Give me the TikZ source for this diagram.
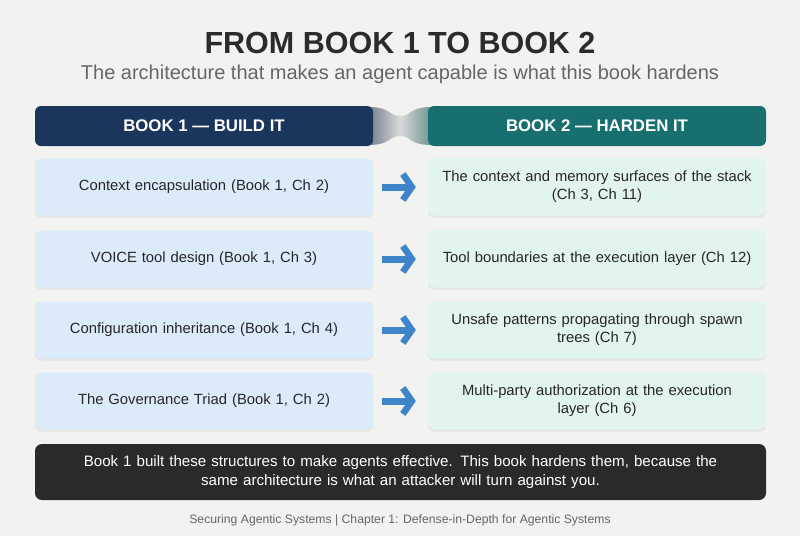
\documentclass[tikz,border=0pt]{standalone}
\usepackage{fontspec}
\setmainfont{Liberation Sans}
\usetikzlibrary{arrows.meta,shadows}
\definecolor{bg}{HTML}{F2F2F0}
\definecolor{navy}{HTML}{1B365D}
\definecolor{teal}{HTML}{17706F}
\definecolor{lblue}{HTML}{DCEBF9}
\definecolor{lmint}{HTML}{E2F4F0}
\definecolor{arrblue}{HTML}{3D85C8}
\definecolor{darkbox}{HTML}{2A2A2A}
\definecolor{titlec}{HTML}{2B2B2B}
\definecolor{subc}{HTML}{666666}
\tikzset{
  hdr/.style={rectangle, rounded corners=6pt, minimum width=338pt, minimum height=40pt, text=white, font=\fontsize{16.8}{20}\selectfont\bfseries, inner sep=0pt},
  lbox/.style={rectangle, rounded corners=6pt, fill=lblue, minimum width=338pt, minimum height=57pt, align=center, text width=330pt, font=\fontsize{14.8}{18}\selectfont, text=black!85, drop shadow={opacity=0.12, shadow xshift=0pt, shadow yshift=-2pt}},
  rbox/.style={lbox, fill=lmint},
  arr/.style={draw=arrblue, line width=7pt, shorten <=9pt, shorten >=12pt, -{Straight Barb[length=9pt, width=26pt, line width=6.5pt]}},
}
\begin{document}
\begin{tikzpicture}[x=1pt,y=-1pt]
\useasboundingbox[fill=bg] (0,0) rectangle (800,536);
\node[font=\fontsize{30.5}{34}\selectfont\bfseries, text=titlec] (title) at (400,43) {FROM BOOK 1 TO BOOK 2};
\node[font=\fontsize{20}{24}\selectfont, text=subc] (sub) at (400,74) {The architecture that makes an agent capable is what this book hardens};
% neck
\shade[left color=navy!50!gray!80, right color=teal!55!gray!80, middle color=gray!30] (368,107) .. controls (392,107) and (388,116) .. (400,116) .. controls (412,116) and (408,107) .. (432,107) -- (432,145) .. controls (408,145) and (412,136) .. (400,136) .. controls (388,136) and (392,145) .. (368,145) -- cycle;
\node[hdr, fill=navy] (h1) at (204,126) {BOOK 1 — BUILD IT};
\node[hdr, fill=teal] (h2) at (597,126) {BOOK 2 — HARDEN IT};
\node[lbox] (l1) at (204,187) {Context encapsulation (Book 1, Ch 2)};
\node[lbox] (l2) at (204,259) {VOICE tool design (Book 1, Ch 3)};
\node[lbox] (l3) at (204,330) {Configuration inheritance (Book 1, Ch 4)};
\node[lbox] (l4) at (204,401) {The Governance Triad (Book 1, Ch 2)};
\node[rbox] (r1) at (597,187) {The context and memory surfaces of the stack\\(Ch 3, Ch 11)};
\node[rbox] (r2) at (597,259) {Tool boundaries at the execution layer (Ch 12)};
\node[rbox] (r3) at (597,330) {Unsafe patterns propagating through spawn\\trees (Ch 7)};
\node[rbox] (r4) at (597,401) {Multi-party authorization at the execution\\layer (Ch 6)};
\foreach \i in {1,2,3,4} \draw[arr] (l\i) -- (r\i);
\node[rectangle, rounded corners=7pt, fill=darkbox, minimum width=731pt, minimum height=56pt, text width=720pt, align=center, text=white, font=\fontsize{15.1}{18.5}\selectfont] (note) at (400.5,472) {Book 1 built these structures to make agents effective. This book hardens them, because the\\same architecture is what an attacker will turn against you.};
\node[font=\fontsize{12.2}{14}\selectfont, text=subc] (foot) at (400,520) {Securing Agentic Systems | Chapter 1: Defense-in-Depth for Agentic Systems};
\end{tikzpicture}
\end{document}
